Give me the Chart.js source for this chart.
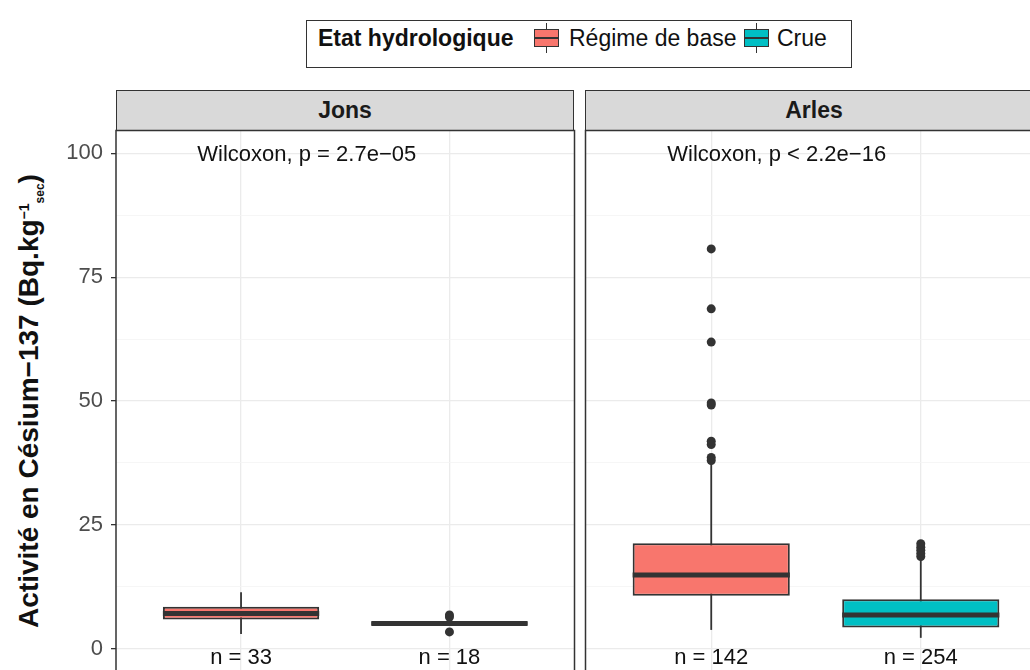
<!DOCTYPE html>
<html>
<head>
<meta charset="utf-8">
<script src="https://cdn.jsdelivr.net/npm/chart.js@4.4.1/dist/chart.umd.min.js"></script>
<style>
html, body { margin: 0; padding: 0; background: #fff; overflow: hidden; width: 1030px; height: 670px; }
body { position: relative; font-family: "Liberation Sans", Arial, sans-serif; color: #111; }
canvas { position: absolute; }
.strip { position: absolute; top: 90px; height: 41px; width: 458px; background: #d9d9d9; border: 1.5px solid #333; box-sizing: border-box; text-align: center; font-weight: bold; font-size: 23px; line-height: 38px; color: #1a1a1a; }
#legendBox { position: absolute; left: 306px; top: 20px; width: 546px; height: 48px; border: 1.5px solid #333; box-sizing: border-box; }
.lt { position: absolute; top: 26.5px; font-size: 23px; line-height: 23px; white-space: nowrap; color: #111; }
.kw { position: absolute; width: 1.5px; top: 23px; height: 30px; background: #333; }
.kb { position: absolute; width: 25px; top: 29px; height: 18px; border: 1.5px solid #333; box-sizing: border-box; }
.km { position: absolute; width: 25px; top: 37px; height: 2px; background: #333; }
#ytitle { position: absolute; left: 31px; top: 401px; transform: translate(-50%, -50%) rotate(-90deg); white-space: nowrap; font-weight: bold; font-size: 28px; line-height: 32px; color: #111; }
.sup { font-size: 14px; position: relative; top: -9px; }
.sub { font-size: 12px; position: relative; top: 6px; }
</style>
</head>
<body>

<div id="legendBox"></div>
<span class="lt" style="left:318px;font-weight:bold">Etat hydrologique</span>
<div class="kw" style="left:545.5px"></div>
<div class="kb" style="left:534px;background:#F8766D"></div>
<div class="km" style="left:534px"></div>
<span class="lt" style="left:569px">Régime de base</span>
<div class="kw" style="left:755.5px"></div>
<div class="kb" style="left:744px;background:#00BFC4"></div>
<div class="km" style="left:744px"></div>
<span class="lt" style="left:777px">Crue</span>

<div class="strip" style="left:116px">Jons</div>
<div class="strip" style="left:585px">Arles</div>

<div id="ytitle">Activité en Césium−137 (Bq.kg<span class="sup">−1</span><span class="sub">sec</span>)</div>

<canvas id="jonsChart" width="579" height="554" style="left:0px;top:126px"></canvas>
<canvas id="arlesChart" width="470" height="554" style="left:581px;top:126px"></canvas>

<script>
// sites (panels) et états hydrologiques
const sites = ['Jons', 'Arles'];
const states = ['Régime de base', 'Crue'];

// statistiques des boîtes, [site][état]
const whiskerLow = [[3.0, 4.6], [3.8, 2.2]];
const q1 = [[5.9, 4.8], [10.7, 4.3]];
const median = [[7.1, 5.1], [14.9, 6.8]];
const q3 = [[8.5, 5.4], [21.3, 10.0]];
const whiskerHigh = [[11.4, 5.8], [37.3, 18.2]];
const outliers = [
    [[], [6.8, 6.4, 3.4]],
    [[80.7, 68.6, 61.9, 49.6, 49.2, 41.9, 41.2, 38.6, 38.0], [18.6, 19.2, 19.9, 20.5, 21.2]]
];
const counts = [[33, 18], [142, 254]];
const pLabels = ['Wilcoxon, p = 2.7e\u221205', 'Wilcoxon, p < 2.2e\u221216'];

// axe y
const yTicks = [0, 25, 50, 75, 100];
const yMinor = [12.5, 37.5, 62.5, 87.5];
const yMin = -5.4;
const yMax = 104.6;

const fillColors = ['#F8766D', '#00BFC4'];
const dark = '#333333';

// éléments de boxplot non gérés par Chart.js
function boxExtras(site) {
    return {
        id: 'boxExtras',
        beforeDatasetsDraw(chart) {
            const { ctx, scales: { x, y } } = chart;
            ctx.save();
            ctx.strokeStyle = dark;
            ctx.lineWidth = 1.8;
            states.forEach((s, j) => {
                const px = x.getPixelForValue(j + 1);
                ctx.beginPath();
                ctx.moveTo(px, y.getPixelForValue(whiskerLow[site][j]));
                ctx.lineTo(px, y.getPixelForValue(whiskerHigh[site][j]));
                ctx.stroke();
            });
            ctx.restore();
        },
        afterDatasetsDraw(chart) {
            const { ctx, chartArea, scales: { x, y } } = chart;
            const bars = chart.getDatasetMeta(0).data;
            ctx.save();
            // médianes
            ctx.strokeStyle = dark;
            ctx.lineWidth = 5;
            states.forEach((s, j) => {
                const bar = bars[j];
                const py = y.getPixelForValue(median[site][j]);
                ctx.beginPath();
                ctx.moveTo(bar.x - bar.width / 2, py);
                ctx.lineTo(bar.x + bar.width / 2, py);
                ctx.stroke();
            });
            // textes
            ctx.fillStyle = '#111';
            ctx.font = '22px "Liberation Sans", Arial, sans-serif';
            ctx.textBaseline = 'middle';
            ctx.textAlign = 'left';
            ctx.fillText(pLabels[site], x.getPixelForValue(0.79), y.getPixelForValue(99.6));
            ctx.textAlign = 'center';
            states.forEach((s, j) => {
                ctx.fillText('n = ' + counts[site][j], x.getPixelForValue(j + 1), y.getPixelForValue(-1.8));
            });
            // cadre du panneau
            ctx.strokeStyle = dark;
            ctx.lineWidth = 1.5;
            ctx.strokeRect(chartArea.left, chartArea.top, chartArea.right - chartArea.left, chartArea.bottom - chartArea.top);
            ctx.restore();
        }
    };
}

function noPadding(s) {
    s.paddingTop = 0;
    s.paddingBottom = 0;
    s.paddingLeft = 0;
    s.paddingRight = 0;
}

function makeChart(canvasId, site, showTicks) {
    const ctx = document.getElementById(canvasId).getContext('2d');
    const outlierPoints = [];
    states.forEach((s, j) => {
        outliers[site][j].forEach(v => outlierPoints.push({ x: j + 1, y: v }));
    });

    return new Chart(ctx, {
        type: 'bar',
        data: {
            datasets: [
                {
                    label: 'boxes',
                    data: states.map((s, j) => ({ x: j + 1, y: [q1[site][j], q3[site][j]] })),
                    backgroundColor: fillColors,
                    borderColor: dark,
                    borderWidth: 2,
                    borderSkipped: false,
                    categoryPercentage: 1,
                    barPercentage: 0.75
                },
                {
                    type: 'scatter',
                    label: 'outliers',
                    data: outlierPoints,
                    backgroundColor: dark,
                    borderWidth: 0,
                    pointRadius: 4.5,
                    pointHoverRadius: 4.5
                }
            ]
        },
        options: {
            responsive: false,
            animation: false,
            layout: { padding: 0 },
            plugins: {
                legend: { display: false },
                tooltip: { enabled: false }
            },
            scales: {
                x: {
                    type: 'linear',
                    min: 0.4,
                    max: 2.6,
                    offset: false,
                    afterBuildTicks: s => { s.ticks = [{ value: 1 }, { value: 2 }]; },
                    ticks: { display: false },
                    grid: { color: '#ebebeb', lineWidth: 1.3, drawTicks: false, offset: false },
                    border: { display: false },
                    afterFit: s => { s.height = 0; noPadding(s); }
                },
                y: {
                    type: 'linear',
                    min: yMin,
                    max: yMax,
                    afterBuildTicks: s => {
                        s.ticks = yTicks.concat(yMinor).sort((a, b) => a - b).map(v => ({ value: v }));
                    },
                    ticks: {
                        display: showTicks,
                        autoSkip: false,
                        padding: 8,
                        color: '#4d4d4d',
                        font: { family: '"Liberation Sans", Arial, sans-serif', size: 22 },
                        callback: v => yTicks.includes(v) ? String(v) : ''
                    },
                    grid: {
                        color: c => yTicks.includes(c.tick.value) ? '#ebebeb' : '#f4f4f4',
                        lineWidth: c => yTicks.includes(c.tick.value) ? 1.3 : 0.8,
                        drawTicks: showTicks,
                        tickLength: 5,
                        tickColor: c => yTicks.includes(c.tick.value) ? dark : 'rgba(0,0,0,0)',
                        tickWidth: 1.3
                    },
                    border: { display: false },
                    afterFit: s => { s.width = showTicks ? 116 : 0; noPadding(s); }
                }
            }
        },
        plugins: [boxExtras(site)]
    });
}

makeChart('jonsChart', 0, true);
makeChart('arlesChart', 1, false);
</script>
</body>
</html>
